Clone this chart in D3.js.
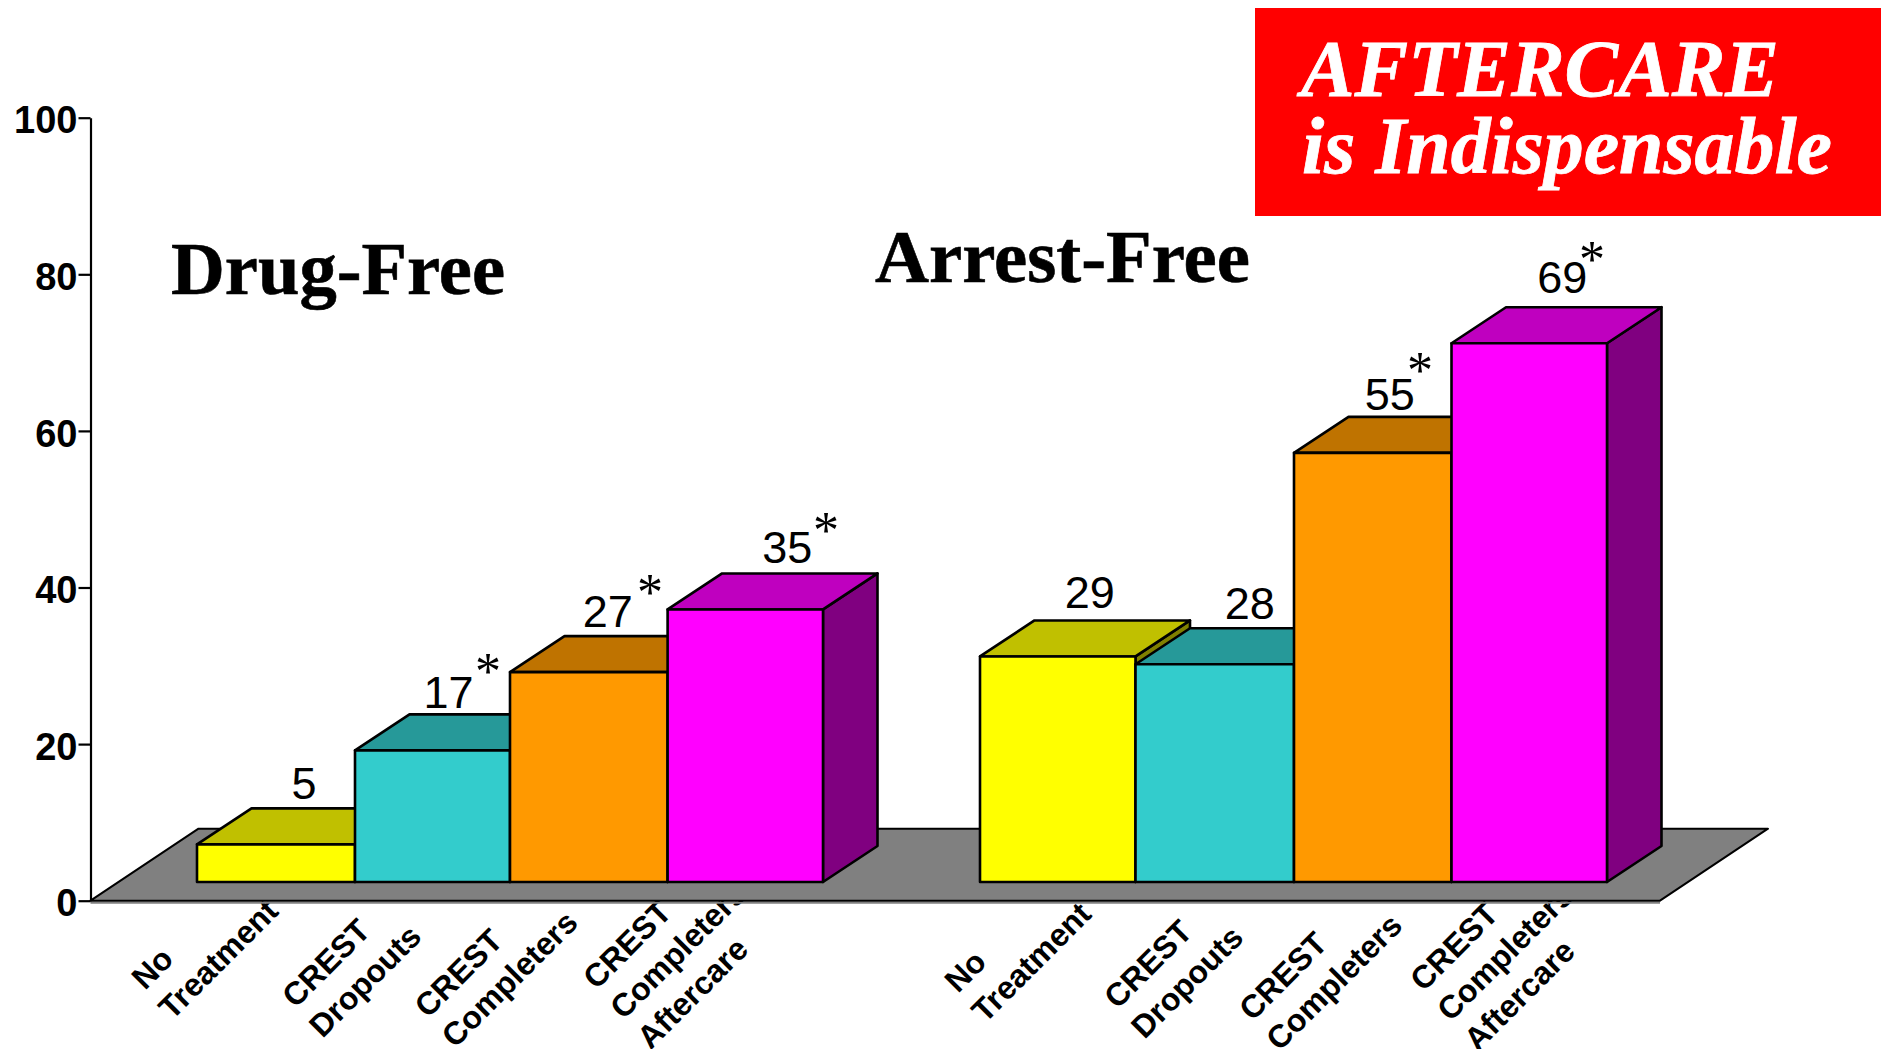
<!DOCTYPE html>
<html><head><meta charset="utf-8">
<script src="https://cdn.jsdelivr.net/npm/d3@7"></script>
<style>html,body{margin:0;padding:0;background:#fff;overflow:hidden}svg{display:block}</style>
</head><body><svg id="c" width="1885" height="1049"></svg>
<script>
// ---- data ----
const categories = [["No","Treatment"],["CREST","Dropouts"],["CREST","Completers"],["CREST","Completers","Aftercare"]];
const drugFree = [5,17,27,35];
const arrestFree = [29,28,55,69];
const drugStars = [false,true,true,true];
const arrestStars = [false,false,true,true];
const yTicks = [0,20,40,60,80,100];
const frontColors = ["#ffff00","#33cccc","#ff9900","#ff00ff"];
const topColors = ["#c0c000","#269999","#bf7300","#bf00bf"];
const sideColors = ["#808000","#1a8080","#8c5400","#800080"];

// ---- layout ----
const svg = d3.select("#c");
const y = d3.scaleLinear().domain([0,100]).range([900.7,117.7]);
const axisX = 90.5, floorRight = 1660, depthFloor = [108,72], depth = [54.5,36], lift = 18.7, topDrop = 1.5;
const idx = categories.map((d,i)=>i);
const edgeIdx = idx.concat(idx.length);
const groups = [
 {name:"drug", values:drugFree, stars:drugStars, x:d3.scaleOrdinal().domain(edgeIdx).range([197,355,510,667.6,823]),
  labelNudge:[[28,8],[16,5],[19,8.5],[42,9]], starPos:[null,[488,664],[650,585],[826,523]],
  catAnchor:[[-52,991],[-59.5,1009],[-82,1019],[-71,990.5]]},
 {name:"arrest", values:arrestFree, stars:arrestStars, x:d3.scaleOrdinal().domain(edgeIdx).range([980,1135.5,1294,1451.5,1607]),
  labelNudge:[[32,11],[35,8],[17,6],[33,13]], starPos:[null,null,[1420,363],[1592,252]],
  catAnchor:[[-22,994],[-18,1010],[-41.5,1022],[-28,992.5]]}
];
const lineStep = [27,30];
const poly = pts => pts.map(p=>p.join(",")).join(" ");

// ---- red banner ----
svg.append("rect").attr("x",1255).attr("y",8).attr("width",626).attr("height",208).attr("fill","#ff0000");
const banner = [["AFTERCARE",1301,96,478],["is Indispensable",1302,172.7,530]];
svg.selectAll("text.banner").data(banner).enter().append("text").attr("class","banner")
  .attr("x",d=>d[1]).attr("y",d=>d[2]).attr("textLength",d=>d[3]).attr("lengthAdjust","spacingAndGlyphs")
  .attr("font-family","Liberation Serif").attr("font-weight","bold").attr("font-style","italic")
  .attr("font-size",81).attr("fill","#fff").attr("stroke","#fff").attr("stroke-width",0.8).text(d=>d[0]);

// ---- category labels (under the floor, which clips them) ----
groups.forEach(g=>{
  categories.forEach((lines,i)=>{
    lines.forEach((ln,k)=>{
      const px = g.x(i)+g.catAnchor[i][0]+k*lineStep[0], py = g.catAnchor[i][1]+k*lineStep[1];
      svg.append("text").attr("transform",`translate(${px},${py}) rotate(-45)`)
        .attr("font-family","Liberation Sans").attr("font-weight","bold")
        .attr("font-size",32).attr("fill","#000").text(ln);
    });
  });
});

// ---- floor ----
svg.append("line").attr("x1",axisX).attr("x2",floorRight).attr("y1",y(0)+2).attr("y2",y(0)+2).attr("stroke","#808080").attr("stroke-width",2);
svg.append("polygon")
  .attr("points",poly([[axisX,y(0)],[floorRight,y(0)],[floorRight+depthFloor[0],y(0)-depthFloor[1]],[axisX+depthFloor[0],y(0)-depthFloor[1]]]))
  .attr("fill","#808080").attr("stroke","#000").attr("stroke-width",2).attr("stroke-linejoin","round");

// ---- axis ----
const axis = d3.axisLeft(y).tickValues(yTicks).tickSize(12).tickPadding(1).tickSizeOuter(0);
const ag = svg.append("g").attr("transform",`translate(${axisX},0)`).call(axis);
ag.selectAll("path,line").attr("stroke","#000").attr("stroke-width",2.2);
ag.selectAll("text").attr("font-family","Liberation Sans").attr("font-weight","bold").attr("font-size",38).attr("fill","#000").attr("dy","0.4em");

// ---- bars ----
groups.forEach(g=>{
  g.values.forEach((v,i)=>{
    const x0=g.x(i), x1=g.x(i+1), yt=y(v)-lift+topDrop, yb=y(0)-lift, [dx,dy]=depth;
    const b = svg.append("g").attr("class","bar").attr("stroke","#000").attr("stroke-width",2.6).attr("stroke-linejoin","round");
    b.append("polygon").attr("fill",sideColors[i]).attr("points",poly([[x1,yt],[x1+dx,yt-dy],[x1+dx,yb-dy],[x1,yb]]));
    b.append("polygon").attr("fill",topColors[i]).attr("points",poly([[x0,yt],[x0+dx,yt-dy],[x1+dx,yt-dy],[x1,yt]]));
    b.append("rect").attr("fill",frontColors[i]).attr("x",x0).attr("y",yt).attr("width",x1-x0).attr("height",yb-yt);
  });
});

// ---- value labels ----
groups.forEach(g=>{
  g.values.forEach((v,i)=>{
    const cx=(g.x(i)+g.x(i+1))/2+g.labelNudge[i][0], by=y(v)-lift-depth[1]-g.labelNudge[i][1]+0.5;
    svg.append("text").attr("x",cx).attr("y",by).attr("text-anchor","middle")
      .attr("font-family","Liberation Sans").attr("font-size",45).attr("fill","#000").text(v);
    if(g.stars[i]) svg.append("text").attr("x",g.starPos[i][0]).attr("y",g.starPos[i][1]+25).attr("text-anchor","middle")
      .attr("font-family","Liberation Serif").attr("font-size",52).attr("fill","#000").text("*");
  });
});

// ---- panel titles ----
[["Drug-Free",171,294,334],["Arrest-Free",875,282,375]].forEach(t=>{
  svg.append("text").attr("x",t[1]).attr("y",t[2]).attr("textLength",t[3]).attr("lengthAdjust","spacingAndGlyphs")
    .attr("font-family","Liberation Serif").attr("font-weight","bold").attr("font-size",74).attr("fill","#000").attr("stroke","#000").attr("stroke-width",0.6).text(t[0]);
});
</script></body></html>
